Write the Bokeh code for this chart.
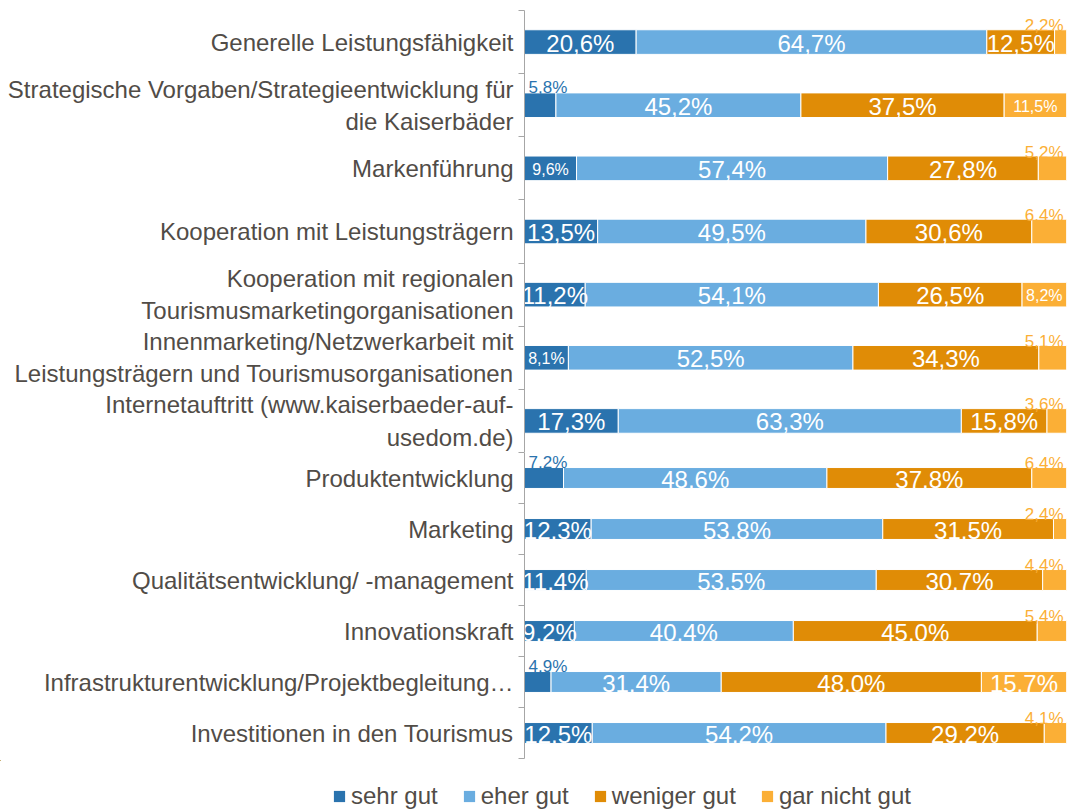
import numpy as np
from bokeh.plotting import figure
from bokeh.models import ColumnDataSource, Range1d, LinearAxis, FixedTicker, Legend, LegendItem
from bokeh.layouts import column
from bokeh.embed import file_html
from bokeh.resources import INLINE
from bokeh.core.properties import value

categories = [
    "Generelle Leistungsfähigkeit",
    "Strategische Vorgaben/Strategieentwicklung für\ndie Kaiserbäder",
    "Markenführung",
    "Kooperation mit Leistungsträgern",
    "Kooperation mit regionalen\nTourismusmarketingorganisationen",
    "Innenmarketing/Netzwerkarbeit mit\nLeistungsträgern und Tourismusorganisationen",
    "Internetauftritt (www.kaiserbaeder-auf-\nusedom.de)",
    "Produktentwicklung",
    "Marketing",
    "Qualitätsentwicklung/ -management",
    "Innovationskraft",
    "Infrastrukturentwicklung/Projektbegleitung…",
    "Investitionen in den Tourismus",
]
sehr_gut = [20.6, 5.8, 9.6, 13.5, 11.2, 8.1, 17.3, 7.2, 12.3, 11.4, 9.2, 4.9, 12.5]
eher_gut = [64.7, 45.2, 57.4, 49.5, 54.1, 52.5, 63.3, 48.6, 53.8, 53.5, 40.4, 31.4, 54.2]
weniger_gut = [12.5, 37.5, 27.8, 30.6, 26.5, 34.3, 15.8, 37.8, 31.5, 30.7, 45.0, 48.0, 29.2]
gar_nicht_gut = [2.2, 11.5, 5.2, 6.4, 8.2, 5.1, 3.6, 6.4, 2.4, 4.4, 5.4, 15.7, 4.1]
series_names = ["sehr gut", "eher gut", "weniger gut", "gar nicht gut"]
series_values = [sehr_gut, eher_gut, weniger_gut, gar_nicht_gut]
colors = ["#2A73AE", "#6AADE0", "#E08C06", "#FBAF36"]

# (category index, series index) of in-bar labels drawn in a smaller font
small_inside = [(1, 3), (2, 0), (4, 3), (5, 0)]

TEXT_COLOR = "#514C47"
AXIS_COLOR = "#A6A6A6"
FONT = "Liberation Sans"
W = 1072


def fmt(v):
    return ("%.1f%%" % v).replace(".", ",")


def make_fig(rows, height, bar_frac, top, bottom):
    n = len(rows)
    p = figure(width=W, height=height, x_range=Range1d(0, 100), y_range=Range1d(n, 0),
               toolbar_location=None, output_backend="svg",
               x_axis_location=None, y_axis_location=None,
               min_border_left=524, min_border_right=W - 524 - 542,
               min_border_top=top, min_border_bottom=bottom)
    p.outline_line_color = None
    p.xgrid.grid_line_color = None
    p.ygrid.grid_line_color = None
    ys = np.arange(n) + 0.5

    left = np.zeros(n)
    big = dict(x=[], y=[], t=[])
    small = dict(x=[], y=[], t=[])
    above_l = dict(x=[], y=[], t=[])
    above_r = dict(x=[], y=[], t=[])
    sources = []
    for s, vals in enumerate(series_values):
        v = np.array([vals[r] for r in rows])
        right = left + v
        src = ColumnDataSource(dict(y=ys, left=left, right=right))
        sources.append(src)
        p.hbar(y="y", left="left", right="right", source=src, height=bar_frac,
               fill_color=colors[s], line_color="white", line_width=1)
        for k, r in enumerate(rows):
            if v[k] >= 8:
                d = small if (r, s) in small_inside else big
                d["x"].append(left[k] + v[k] / 2)
                d["y"].append(ys[k])
                d["t"].append(fmt(v[k]))
            elif s == 0:
                above_l["x"].append(0)
                above_l["y"].append(ys[k] - bar_frac / 2)
                above_l["t"].append(fmt(v[k]))
            else:
                above_r["x"].append(100)
                above_r["y"].append(ys[k] - bar_frac / 2)
                above_r["t"].append(fmt(v[k]))
        left = right

    p.text(x="x", y="y", text="t", source=ColumnDataSource(big), text_color="white",
           text_font=value(FONT), text_font_size="24px", text_align="center",
           text_baseline="middle", y_offset=1)
    p.text(x="x", y="y", text="t", source=ColumnDataSource(small), text_color="white",
           text_font=value(FONT), text_font_size="16px", text_align="center",
           text_baseline="middle", y_offset=1)
    p.text(x="x", y="y", text="t", source=ColumnDataSource(above_l), text_color=colors[0],
           text_font=value(FONT), text_font_size="17px", text_align="left",
           text_baseline="alphabetic", x_offset=4, y_offset=-5)
    p.text(x="x", y="y", text="t", source=ColumnDataSource(above_r), text_color=colors[3],
           text_font=value(FONT), text_font_size="17px", text_align="right",
           text_baseline="alphabetic", x_offset=-3, y_offset=-4)

    tick_axis = LinearAxis(ticker=FixedTicker(ticks=list(range(n + 1))),
                           major_label_overrides={i: "" for i in range(n + 1)},
                           major_label_text_font_size="0px", major_label_standoff=0,
                           major_tick_out=6, major_tick_in=0,
                           axis_line_color=AXIS_COLOR, major_tick_line_color=AXIS_COLOR,
                           minor_tick_line_color=None)
    label_axis = LinearAxis(ticker=FixedTicker(ticks=[float(y) for y in ys]),
                            major_label_overrides={float(y): categories[r] for y, r in zip(ys, rows)},
                            axis_line_color=None, major_tick_line_color=None,
                            minor_tick_line_color=None, major_tick_out=0, major_tick_in=0,
                            major_label_standoff=5, major_label_text_font_size="24px",
                            major_label_text_font=FONT, major_label_text_color=TEXT_COLOR)
    p.add_layout(tick_axis, "left")
    p.add_layout(label_axis, "left")
    return p, sources


p1, _ = make_fig(list(range(0, 7)), 452, 0.39, 10, 0)
p2, srcs = make_fig(list(range(7, 13)), 308, 0.41, 0, 2)

# legend strip: its own plot, sharing the bar sources (kept far outside its visible ranges)
p3 = figure(width=W, height=50, x_range=Range1d(1000, 1100), y_range=Range1d(-100, -90),
            toolbar_location=None, output_backend="svg",
            x_axis_location=None, y_axis_location=None, min_border=0)
if "frame_align" in p3.properties():
    p3.frame_align = False
p3.outline_line_color = None
p3.xgrid.grid_line_color = None
p3.ygrid.grid_line_color = None
items = []
for name, c, src in zip(series_names, colors, srcs):
    r = p3.hbar(y="y", left="left", right="right", source=src, height=0,
                fill_color=c, line_color=None)
    items.append(LegendItem(label=name, renderers=[r]))
legend = Legend(items=items, orientation="horizontal", location=(332, 0),
                glyph_width=14, glyph_height=14, label_standoff=5, spacing=24,
                padding=0, margin=0, border_line_color=None, background_fill_alpha=0,
                label_text_font=FONT, label_text_font_size="24px",
                label_text_color=TEXT_COLOR, label_height=26)
p3.add_layout(legend, "center")

layout = column(p1, p2, p3, spacing=0)
open("out.html", "w").write(file_html(layout, INLINE))
